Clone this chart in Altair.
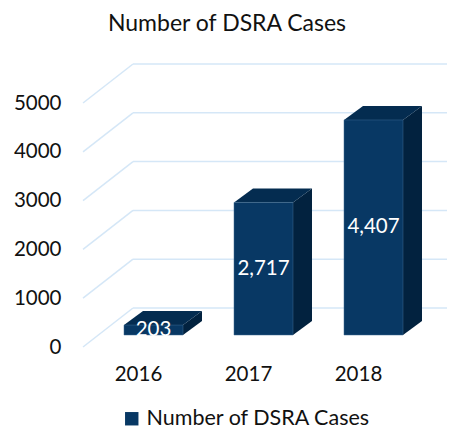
import json
import altair as alt
import pandas as pd

# ---- data ----
YEARS = ["2016", "2017", "2018"]
CASES = [203, 2717, 4407]
TICKS = [0, 1000, 2000, 3000, 4000, 5000]
SERIES = "Number of DSRA Cases"
TITLE = "Number of DSRA Cases"

# ---- geometry (pixels) ----
PLOT_W, PLOT_H = 330, 244
YMAX = 5000
NCAT = len(YEARS)
PX_X = PLOT_W / NCAT


def ux(px):
    return px / PX_X


def uy(px):
    return px * YMAX / PLOT_H


FLOOR_DX, FLOOR_DY = 50, 39      # depth of the floor / walls
BAR_LEFT, BAR_W = 41, 59         # front face of bar inside its band
BAR_LIFT = 12                    # bars sit in the middle of the depth
BAR_DX, BAR_DY = 19, 14          # depth of each bar

FRONT = "#083864"
SIDE = "#02223f"
TOP = "#042c50"
GRID = "#d5e7f7"
FONT = "Lato"
TXT = "#111111"

# ---- tables built from the lists ----
bars = pd.DataFrame({"year": YEARS, "cases": CASES, "i": range(NCAT)})
bars["series"] = SERIES
bars["x0"] = bars["i"] + ux(BAR_LEFT)
bars["x1"] = bars["i"] + ux(BAR_LEFT + BAR_W)
bars["y0"] = uy(BAR_LIFT)
bars["y1"] = bars["cases"] + uy(BAR_LIFT)
bars["xl"] = bars["i"] + ux(BAR_LEFT + BAR_W / 2)
bars["yl"] = bars["cases"] / 2 + uy(BAR_LIFT)
bars["label"] = [f"{v:,}" for v in CASES]

rows = []
for _, r in bars.iterrows():
    for t in (0, 1):
        rows.append({
            "year": r["year"],
            "sx": r["x1"] + t * ux(BAR_DX),
            "sy": r["y1"] + t * uy(BAR_DY),
            "sy2": r["y0"] + t * uy(BAR_DY),
            "ty": r["y1"] + t * uy(BAR_DY),
            "tx": r["x0"] + t * ux(BAR_DX),
            "tx2": r["x1"] + t * ux(BAR_DX),
        })
faces = pd.DataFrame(rows)

grid = pd.DataFrame({"v": TICKS})
grid["vb"] = grid["v"] + uy(FLOOR_DY)
grid["xa"] = 0.0
grid["xb"] = ux(FLOOR_DX)
grid["xc"] = ux(FLOOR_DX) + NCAT + 0.6

xs = alt.Scale(domain=[0, NCAT], nice=False, zero=False)
ys = alt.Scale(domain=[0, YMAX], nice=False, zero=False)

label_expr = json.dumps(YEARS) + "[floor(datum.value)]"
X_AXIS = alt.Axis(values=[k + 0.5 for k in range(NCAT)], labelExpr=label_expr,
                  domain=False, ticks=False, grid=False, labelFont=FONT,
                  labelFontSize=20.5, labelColor=TXT, labelPadding=17, title=None)
Y_AXIS = alt.Axis(values=TICKS, format="d", domain=False, ticks=False, grid=False,
                  labelFont=FONT, labelFontSize=20.5, labelColor=TXT,
                  labelPadding=22, title=None)


def X(f):
    return alt.X(f, scale=xs, axis=X_AXIS)


def Y(f):
    return alt.Y(f, scale=ys, axis=Y_AXIS)


diag = alt.Chart(grid).mark_rule(color=GRID, strokeWidth=1.5).encode(
    x=X("xa:Q"), x2="xb:Q", y=Y("v:Q"), y2="vb:Q",
)
back = alt.Chart(grid).mark_rule(color=GRID, strokeWidth=1.5).encode(
    x=X("xb:Q"), x2="xc:Q", y=Y("vb:Q"),
)

front = alt.Chart(bars).mark_rect(stroke="#3d6a92", strokeWidth=0.5).encode(
    x=X("x0:Q"), x2="x1:Q", y=Y("y0:Q"), y2="y1:Q",
    color=alt.Color("series:N", scale=alt.Scale(domain=[SERIES], range=[FRONT]),
                    legend=alt.Legend(title=None, orient="none", legendX=38, legendY=305,
                                      symbolType="square", symbolSize=180,
                                      symbolStrokeWidth=0, labelFont=FONT,
                                      labelFontSize=21.5, labelColor=TXT,
                                      labelOffset=4, labelLimit=0)),
)

side = alt.Chart(faces).mark_area(color=SIDE, orient="vertical").encode(
    x=X("sx:Q"), y=Y("sy:Q"), y2="sy2:Q", detail="year:N",
)
top = alt.Chart(faces).mark_area(color=TOP, orient="horizontal").encode(
    y=Y("ty:Q"), x=X("tx:Q"), x2="tx2:Q", detail="year:N",
)
text = alt.Chart(bars).mark_text(color="white", font=FONT, fontSize=20.5,
                                 baseline="middle", align="center").encode(
    x=X("xl:Q"), y=Y("yl:Q"), text="label:N",
)

chart = alt.layer(diag, back, side, top, front, text).properties(
    width=PLOT_W,
    height=PLOT_H,
    title=alt.TitleParams(TITLE, font=FONT, fontSize=23, fontWeight="normal",
                          anchor="middle", frame="group", offset=27, dx=-21,
                          color=TXT),
    autosize=alt.AutoSizeParams(type="none"),
    padding={"left": 75, "top": 95, "right": 34, "bottom": 84},
).configure_view(stroke=None)

chart.save("out.html", embed_options={"renderer": "svg", "actions": False})
